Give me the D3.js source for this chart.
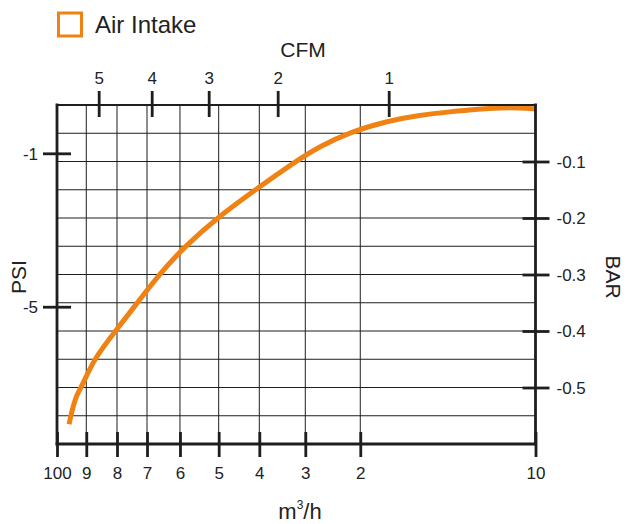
<!DOCTYPE html>
<html>
<head>
<meta charset="utf-8">
<script src="https://cdn.jsdelivr.net/npm/d3@7"></script>
<style>
  body { margin: 0; background: #fff; }
  text { font-family: "Liberation Sans", Arial, sans-serif; fill: #222; }
</style>
</head>
<body>
<svg id="chart" width="627" height="524"></svg>
<script>
// Flow axis (m³/h) along the bottom
const flowTicks = [100, 90, 80, 70, 60, 50, 40, 30, 20, 10];
const flowLabels = ["100", "9", "8", "7", "6", "5", "4", "3", "2", "10"];
// Flow axis (CFM) along the top
const cfmTicks = [5, 4, 3, 2, 1];
const cfmLabels = ["5", "4", "3", "2", "1"];
// Pressure axes
const psiTicks = [-1, -5];
const barTicks = [-0.1, -0.2, -0.3, -0.4, -0.5];
// Air intake curve: flow (m³/h) against vacuum (bar)
const intakeFlow = [95.9, 94.5, 93.2, 91.6, 87.4, 80.2, 73.2, 66.1, 58.4, 50.1, 40.8, 31.8, 27.3, 21.9, 18.4, 16.6, 14.9, 13.2, 12.0, 10.9, 10.0];
const intakeBar = [-0.565, -0.533, -0.512, -0.499, -0.448, -0.398, -0.350, -0.298, -0.248, -0.198, -0.149, -0.098, -0.073, -0.048, -0.028, -0.018, -0.012, -0.007, -0.005, -0.005, -0.007];
const seriesName = "Air Intake";

const orange = "#EF8212";
const ink = "#1e1e1e";

const svg = d3.select("#chart");
const plotLeft = 57, plotRight = 535.5, plotTop = 105, plotBottom = 444;
const pw = plotRight - plotLeft;

// The flow scales are piecewise: each tick sits at its own fraction of the width
const flowStops = [0, 0.0612, 0.1254, 0.1881, 0.2570, 0.3379, 0.4228, 0.5189, 0.6338, 1];
const cfmStops = [0.0871, 0.1979, 0.3170, 0.4612, 0.6932];
const x = d3.scaleLinear().domain(flowTicks).range(flowStops.map(f => plotLeft + f * pw));
const xTop = d3.scaleLinear().domain(cfmTicks).range(cfmStops.map(f => plotLeft + f * pw));
const yBar = d3.scaleLinear().domain([0, -0.6]).range([plotTop, plotBottom]);
const yPsi = d3.scaleLinear().domain([0.26, -8.58]).range([plotTop, plotBottom]);

// Grid
const grid = svg.append("g").attr("stroke", ink).attr("stroke-width", 1);
grid.selectAll("line.h")
  .data(d3.range(1, 12).map(i => -0.05 * i))
  .join("line").attr("class", "h")
  .attr("x1", plotLeft).attr("x2", plotRight)
  .attr("y1", d => yBar(d)).attr("y2", d => yBar(d));
grid.selectAll("line.v")
  .data(flowTicks.slice(1, -1))
  .join("line").attr("class", "v")
  .attr("x1", d => x(d)).attr("x2", d => x(d))
  .attr("y1", plotTop).attr("y2", plotBottom);

// Curve
const pts = intakeFlow.map((f, i) => [f, intakeBar[i]]);
svg.append("path")
  .datum(pts)
  .attr("fill", "none")
  .attr("stroke", orange)
  .attr("stroke-width", 5)
  .attr("d", d3.line().x(d => x(d[0])).y(d => yBar(d[1])).curve(d3.curveBasis));

// Frame
const frame = svg.append("g").attr("stroke", ink).attr("stroke-linecap", "square");
frame.append("line").attr("x1", plotLeft).attr("x2", plotRight).attr("y1", plotTop).attr("y2", plotTop).attr("stroke-width", 2.2);
frame.append("line").attr("x1", plotLeft).attr("x2", plotRight).attr("y1", plotBottom).attr("y2", plotBottom).attr("stroke-width", 2.8);
frame.append("line").attr("x1", plotLeft).attr("x2", plotLeft).attr("y1", plotTop).attr("y2", plotBottom).attr("stroke-width", 2.8);
frame.append("line").attr("x1", plotRight).attr("x2", plotRight).attr("y1", plotTop).attr("y2", plotBottom).attr("stroke-width", 2.8);

function styleAxis(g) {
  g.select(".domain").remove();
  g.selectAll(".tick line").attr("stroke", ink).attr("stroke-width", 2.8);
  g.selectAll(".tick text").attr("fill", ink).style("font-size", "17px")
    .style("font-family", '"Liberation Sans", Arial, sans-serif');
}

// Bottom axis (m³/h)
svg.append("g")
  .attr("transform", `translate(0,${plotBottom})`)
  .call(d3.axisBottom(x).tickValues(flowTicks).tickFormat((d, i) => flowLabels[i]))
  .call(styleAxis)
  .call(g => g.selectAll(".tick line").attr("y1", -12).attr("y2", 13))
  .call(g => g.selectAll(".tick text").attr("y", 35).attr("dy", 0));

// Top axis (CFM)
svg.append("g")
  .attr("transform", `translate(0,${plotTop})`)
  .call(d3.axisTop(xTop).tickValues(cfmTicks).tickFormat((d, i) => cfmLabels[i]))
  .call(styleAxis)
  .call(g => g.selectAll(".tick line").attr("y1", -14).attr("y2", 12))
  .call(g => g.selectAll(".tick text").attr("y", -21).attr("dy", 0));

// Left axis (PSI)
svg.append("g")
  .attr("transform", `translate(${plotLeft},0)`)
  .call(d3.axisLeft(yPsi).tickValues(psiTicks).tickFormat(d => String(d)))
  .call(styleAxis)
  .call(g => g.selectAll(".tick line").attr("x1", -14).attr("x2", 14))
  .call(g => g.selectAll(".tick text").attr("x", -19).attr("dy", "0.35em"));

// Right axis (BAR)
svg.append("g")
  .attr("transform", `translate(${plotRight},0)`)
  .call(d3.axisRight(yBar).tickValues(barTicks).tickFormat(d => String(d)))
  .call(styleAxis)
  .call(g => g.selectAll(".tick line").attr("x1", -13).attr("x2", 14))
  .call(g => g.selectAll(".tick text").attr("x", 21).attr("dy", "0.35em"));

// Axis titles
svg.append("text").attr("x", 303).attr("y", 57).attr("text-anchor", "middle")
  .style("font-size", "21px").text("CFM");
const unit = svg.append("text").attr("x", 300).attr("y", 519).attr("text-anchor", "middle")
  .style("font-size", "22px");
unit.append("tspan").text("m");
unit.append("tspan").attr("dy", -10).style("font-size", "12px").text("3");
unit.append("tspan").attr("dy", 10).text("/h");
svg.append("text").attr("transform", "translate(26,277) rotate(-90)").attr("text-anchor", "middle")
  .style("font-size", "21px").text("PSI");
svg.append("text").attr("transform", "translate(606,277) rotate(90)").attr("text-anchor", "middle")
  .style("font-size", "21px").text("BAR");

// Legend
const legend = svg.append("g");
legend.append("rect").attr("x", 58.5).attr("y", 13).attr("width", 23).attr("height", 23)
  .attr("fill", "#fff").attr("stroke", orange).attr("stroke-width", 3);
legend.append("text").attr("x", 95).attr("y", 33).style("font-size", "24px").text(seriesName);
</script>
</body>
</html>
